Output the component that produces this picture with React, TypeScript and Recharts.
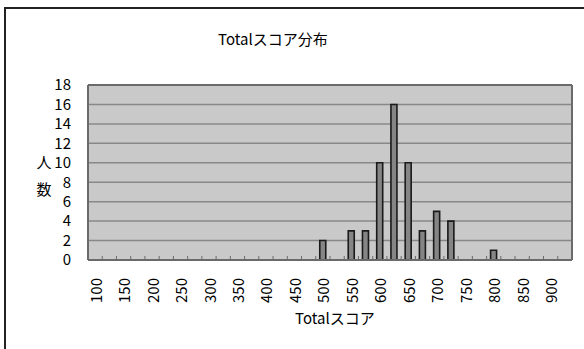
import React from 'react';
import {
  BarChart,
  Bar,
  XAxis,
  YAxis,
  CartesianGrid,
  ReferenceLine,
} from 'recharts';

// score bins (every 25 points), labels only every 50
const scores = [
  '100', '125', '150', '175', '200', '225', '250', '275', '300', '325',
  '350', '375', '400', '425', '450', '475', '500', '525', '550', '575',
  '600', '625', '650', '675', '700', '725', '750', '775', '800', '825',
  '850', '875', '900', '925',
];

const counts = [
  0, 0, 0, 0, 0, 0, 0, 0, 0, 0,
  0, 0, 0, 0, 0, 0, 2, 0, 3, 3,
  10, 16, 10, 3, 5, 4, 0, 0, 1, 0,
  0, 0, 0, 0,
];

const yTicks = [0, 2, 4, 6, 8, 10, 12, 14, 16, 18];

const data = scores.map((s, i) => ({ score: s, count: counts[i] }));

const FONT = '"Noto Sans CJK JP", "Noto Sans", sans-serif';

const ScoreTick = (props: any) => {
  const { x, y, payload } = props;
  const half = payload && payload.offset ? payload.offset : 7.1;
  const showLabel = Number(payload.value) % 50 === 0;
  return (
    <g>
      <line x1={x - half} x2={x - half} y1={y - 4} y2={y} stroke="#6a6a6a" strokeWidth={1} />
      {showLabel && (
        <text
          x={x}
          y={y + 18}
          transform={`rotate(-90, ${x}, ${y + 18})`}
          textAnchor="end"
          dominantBaseline="central"
          fontSize={15}
          fontFamily={FONT}
          fill="#000"
        >
          {payload.value}
        </text>
      )}
    </g>
  );
};

export default function App() {
  return (
    <div
      style={{
        position: 'fixed',
        left: 0,
        top: 0,
        width: 584,
        height: 349,
        overflow: 'hidden',
        background: '#fff',
        fontFamily: FONT,
      }}
    >
      {/* outer chart frame, only top/left edges are in view */}
      <div
        style={{
          position: 'absolute',
          left: 4,
          top: 7,
          width: 700,
          height: 500,
          borderTop: '2px solid #222',
          borderLeft: '2px solid #222',
        }}
      />
      <div
        style={{
          position: 'absolute',
          left: 218,
          top: 29,
          fontSize: 15,
          lineHeight: '20px',
          color: '#000',
        }}
      >
        Totalスコア分布
      </div>
      <div
        style={{
          position: 'absolute',
          left: 35,
          top: 148,
          width: 18,
          fontSize: 15,
          lineHeight: '27px',
          textAlign: 'center',
          color: '#000',
        }}
      >
        人<br />数
      </div>
      <div
        style={{
          position: 'absolute',
          left: 295,
          top: 308,
          fontSize: 15,
          lineHeight: '20px',
          color: '#000',
        }}
      >
        Totalスコア
      </div>
      <div style={{ position: 'absolute', left: 0, top: 0 }}>
        <BarChart
          width={584}
          height={349}
          data={data}
          margin={{ top: 85, right: 11, bottom: 39, left: 58 }}
        >
          <CartesianGrid
            vertical={false}
            fill="#c9c9c9"
            stroke="#888"
            strokeWidth={1.5}
          />
          <XAxis
            dataKey="score"
            interval={0}
            height={50}
            tickSize={0}
            tickMargin={0}
            tickLine={false}
            axisLine={{ stroke: '#6a6a6a', strokeWidth: 2 }}
            tick={<ScoreTick />}
          />
          <YAxis
            domain={[0, 18]}
            ticks={yTicks}
            interval={0}
            width={30}
            tickSize={0}
            tickMargin={17}
            tickLine={false}
            axisLine={{ stroke: '#6a6a6a', strokeWidth: 2 }}
            tick={{ fontSize: 15, fontFamily: FONT, fill: '#000' }}
          />
          <YAxis
            yAxisId="right"
            orientation="right"
            domain={[0, 18]}
            width={1}
            tick={false}
            tickLine={false}
            axisLine={{ stroke: '#6a6a6a', strokeWidth: 2 }}
          />
          <ReferenceLine y={18} stroke="#6a6a6a" strokeWidth={2} />
          <Bar
            dataKey="count"
            barSize={6}
            fill="#858585"
            stroke="#1a1a1a"
            strokeWidth={1.6}
            isAnimationActive={false}
          />
        </BarChart>
      </div>
    </div>
  );
}
